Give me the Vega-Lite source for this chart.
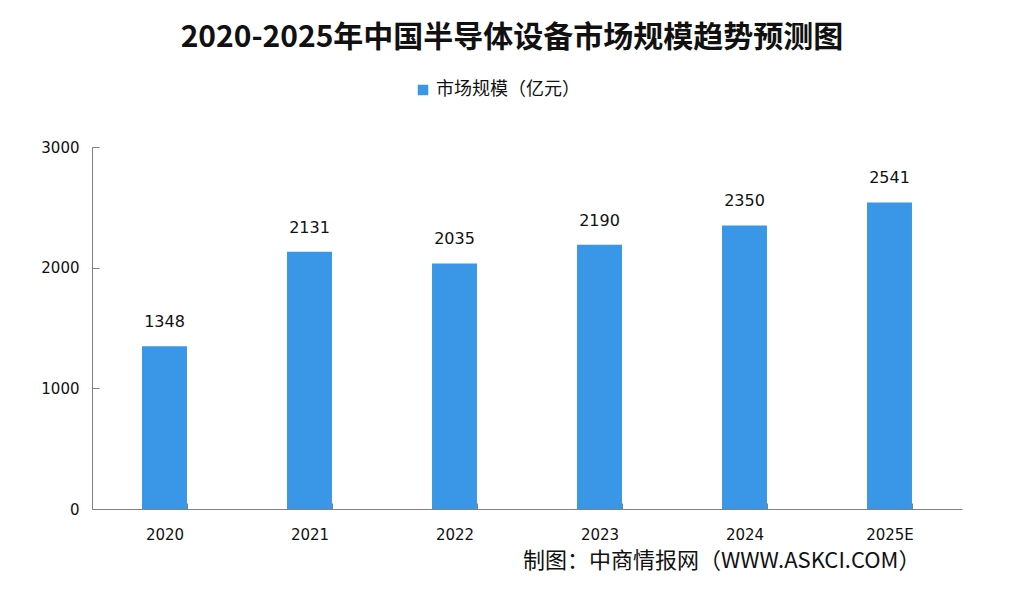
{
  "$schema": "https://vega.github.io/schema/vega-lite/v6.json",
  "autosize": {"type": "none"},
  "width": 870,
  "height": 362,
  "padding": {"left": 92, "top": 147, "right": 62, "bottom": 88},
  "background": "#ffffff",
  "config": {"view": {"stroke": null}},
  "title": {
    "text": "2020-2025年中国半导体设备市场规模趋势预测图",
    "font": "Noto Sans CJK SC",
    "fontSize": 30,
    "fontWeight": "bold",
    "color": "#111111",
    "anchor": "middle",
    "dx": -15,
    "offset": 28
  },
  "data": {
    "values": [
      {"year": "2020", "value": 1348, "series": "市场规模（亿元）"},
      {"year": "2021", "value": 2131, "series": "市场规模（亿元）"},
      {"year": "2022", "value": 2035, "series": "市场规模（亿元）"},
      {"year": "2023", "value": 2190, "series": "市场规模（亿元）"},
      {"year": "2024", "value": 2350, "series": "市场规模（亿元）"},
      {"year": "2025E", "value": 2541, "series": "市场规模（亿元）"}
    ]
  },
  "encoding": {
    "x": {
      "field": "year",
      "type": "ordinal",
      "sort": null,
      "scale": {"paddingInner": 0.69, "paddingOuter": 0.345},
      "axis": {
        "title": "制图：中商情报网（WWW.ASKCI.COM）",
        "titleFont": "Noto Sans CJK SC",
        "titleFontSize": 22,
        "titleFontWeight": "normal",
        "titleColor": "#111111",
        "titleAnchor": "end",
        "titleAlign": "right",
        "titleX": 828,
        "titleY": 51,
        "titleBaseline": "middle",
        "labelAngle": 0,
        "labelFont": "DejaVu Sans",
        "labelFontSize": 15,
        "labelColor": "#111111",
        "labelPadding": 24,
        "tickBand": "extent",
        "tickSize": -6,
        "tickColor": "#808080",
        "domainColor": "#808080",
        "grid": false
      }
    },
    "y": {
      "field": "value",
      "type": "quantitative",
      "scale": {"domain": [0, 3000], "nice": false},
      "axis": {
        "title": null,
        "values": [0, 1000, 2000, 3000],
        "format": "d",
        "labelFont": "DejaVu Sans",
        "labelFontSize": 15,
        "labelColor": "#111111",
        "labelPadding": 20,
        "tickSize": -7,
        "tickColor": "#808080",
        "domainColor": "#808080",
        "grid": false
      }
    }
  },
  "layer": [
    {
      "mark": {"type": "bar"},
      "encoding": {
        "color": {
          "field": "series",
          "type": "nominal",
          "scale": {"range": ["#3a96e6"]},
          "legend": {
            "title": null,
            "orient": "none",
            "legendX": 322,
            "legendY": -66,
            "symbolType": "square",
            "symbolSize": 110,
            "labelFont": "Noto Sans CJK SC",
            "labelFontSize": 18,
            "labelColor": "#111111",
            "labelOffset": 4
          }
        }
      }
    },
    {
      "mark": {"type": "text", "baseline": "alphabetic", "dy": -19, "font": "DejaVu Sans", "fontSize": 16, "color": "#111111"},
      "encoding": {
        "text": {"field": "value", "type": "quantitative", "format": "d"}
      }
    }
  ]
}
